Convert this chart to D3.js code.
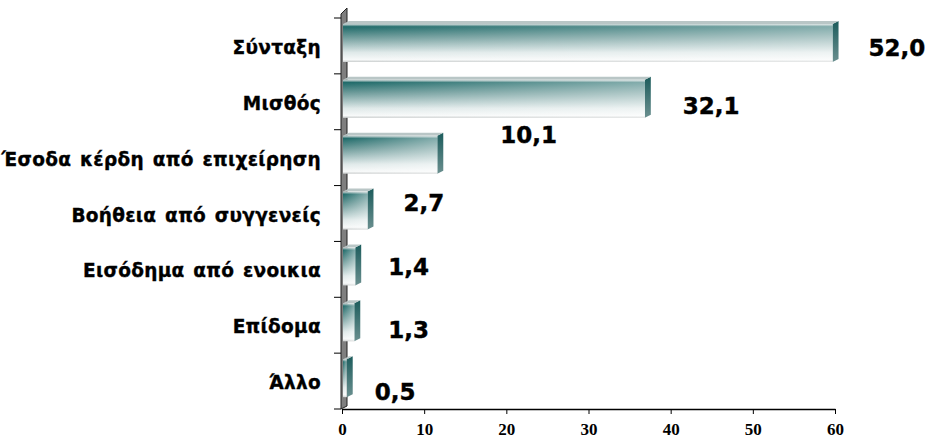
<!DOCTYPE html>
<html>
<head>
<meta charset="UTF-8">
<title>Πηγές εισοδήματος</title>
<script src="https://cdn.jsdelivr.net/npm/d3@7/dist/d3.min.js"></script>
<style>
  body { margin: 0; background: #fff; }
  .cat { font-family: "DejaVu Sans", sans-serif; font-weight: bold; font-size: 18.5px; letter-spacing: 0.3px;
         word-spacing: 2px; fill: #000; stroke: #000; stroke-width: 0.35px; }
  .val { font-family: "DejaVu Sans", sans-serif; font-weight: bold; font-size: 23px; fill: #000;
         stroke: #000; stroke-width: 0.4px; }
</style>
</head>
<body>
<svg id="chart" width="928" height="438"></svg>
<script>
// data
let categories = ["Σύνταξη", "Μισθός", "Έσοδα κέρδη από επιχείρηση", "Βοήθεια από συγγενείς",
                  "Εισόδημα από ενοικια", "Επίδομα", "Άλλο"];
let values = [52.0, 32.1, 10.1, 2.7, 1.4, 1.3, 0.5];
let axisTicks = [0, 10, 20, 30, 40, 50, 60];

let svg = d3.select("#chart");
let plotLeft = 342, plotRight = 835, plotTop = 18, plotBottom = 409;
let depthX = 6, depthY = -3;

// axis labels and bars don't share a scale in the original, keep it that way
let x = d3.scaleLinear().domain([0, 60]).range([plotLeft, plotRight]);
let barX = d3.scaleLinear().domain([0, 60]).range([plotLeft, plotLeft + 566]);
let y = d3.scaleBand().domain(categories).range([plotTop, plotBottom]);

let defs = svg.append("defs");
let grad = defs.append("linearGradient").attr("id", "face")
    .attr("x1", 0).attr("y1", 0).attr("x2", 0).attr("y2", 1);
grad.append("stop").attr("offset", "0%").attr("stop-color", "#cfd8d8");
grad.append("stop").attr("offset", "7%").attr("stop-color", "#1f6a69");
grad.append("stop").attr("offset", "35%").attr("stop-color", "#6f9c9b");
grad.append("stop").attr("offset", "75%").attr("stop-color", "#dfe9e9");
grad.append("stop").attr("offset", "94%").attr("stop-color", "#f7f9f9");
grad.append("stop").attr("offset", "100%").attr("stop-color", "#c8cccc");

let shine = defs.append("linearGradient").attr("id", "shine")
    .attr("x1", 0).attr("y1", 0).attr("x2", 1).attr("y2", 0);
shine.append("stop").attr("offset", "0%").attr("stop-color", "#fff").attr("stop-opacity", 0);
shine.append("stop").attr("offset", "100%").attr("stop-color", "#fff").attr("stop-opacity", 0.45);

let capGrad = defs.append("linearGradient").attr("id", "cap")
    .attr("x1", 0).attr("y1", 0).attr("x2", 0).attr("y2", 1);
capGrad.append("stop").attr("offset", "0%").attr("stop-color", "#1c5c5c");
capGrad.append("stop").attr("offset", "100%").attr("stop-color", "#6a8f8f");

// back wall
svg.append("polygon")
    .attr("points", [[plotLeft - 1, plotBottom], [plotLeft - 1, plotTop - 4], [plotLeft - 1 + depthX, plotTop - 4 + depthY * 2],
                     [plotLeft - 1 + depthX, plotBottom + depthY]].join(" "))
    .attr("fill", "#7f7f7f").attr("stroke", "#222").attr("stroke-width", 1);

// category ticks
svg.append("g").selectAll("line")
    .data(d3.range(categories.length + 1))
    .join("line")
    .attr("x1", plotLeft - 8).attr("x2", plotLeft - 1)
    .attr("y1", i => plotTop + i * y.step()).attr("y2", i => plotTop + i * y.step())
    .attr("stroke", "#000");

let bars = svg.append("g").selectAll("g")
    .data(values)
    .join("g");

let barTop = (d, i) => y(categories[i]) + 6;
let barH = 38;

bars.append("polygon")
    .attr("points", (d, i) => {
        let x1 = barX(d), t = barTop(d, i);
        return [[x1, t], [x1 + depthX, t + depthY], [x1 + depthX, t + barH + depthY], [x1, t + barH]].join(" ");
    })
    .attr("fill", "url(#cap)");

bars.append("polygon")
    .attr("points", (d, i) => {
        let x0 = plotLeft + 1, x1 = barX(d), t = barTop(d, i);
        return [[x0, t], [x0 + depthX, t + depthY], [x1 + depthX, t + depthY], [x1, t]].join(" ");
    })
    .attr("fill", "#b9c6c6");

bars.append("rect")
    .attr("x", plotLeft + 1)
    .attr("y", barTop)
    .attr("width", d => barX(d) - plotLeft - 1)
    .attr("height", barH)
    .attr("fill", "url(#face)");

bars.append("rect")
    .attr("x", plotLeft + 1)
    .attr("y", barTop)
    .attr("width", d => barX(d) - plotLeft - 1)
    .attr("height", barH)
    .attr("fill", "url(#shine)");

// category labels
svg.append("g").selectAll("text")
    .data(categories)
    .join("text")
    .attr("class", "cat")
    .attr("x", 321)
    .attr("y", d => y(d) + y.bandwidth() / 2 + 3)
    .attr("text-anchor", "end")
    .attr("dominant-baseline", "middle")
    .text(d => d);

// value labels were nudged by hand in the original
let nudge = [[36, 4], [38, 6], [63, -21], [36, -9], [33, -1], [34, 6], [28, 12]];
svg.append("g").selectAll("text")
    .data(values)
    .join("text")
    .attr("class", "val")
    .attr("x", (d, i) => barX(d) + nudge[i][0])
    .attr("y", (d, i) => y(categories[i]) + y.bandwidth() / 2 + nudge[i][1])
    .attr("dominant-baseline", "middle")
    .text(d => d3.format(".1f")(d).replace(".", ","));

// x axis
svg.append("g")
    .attr("transform", `translate(0,${plotBottom})`)
    .call(d3.axisBottom(x).tickValues(axisTicks).tickSize(5).tickSizeOuter(0).tickPadding(9))
    .call(g => g.select(".domain").attr("stroke", "#000").attr("stroke-width", 1.5))
    .call(g => g.selectAll(".tick text")
        .attr("font-family", "Liberation Serif, serif")
        .attr("font-weight", "bold")
        .attr("font-size", 17));
</script>
</body>
</html>
